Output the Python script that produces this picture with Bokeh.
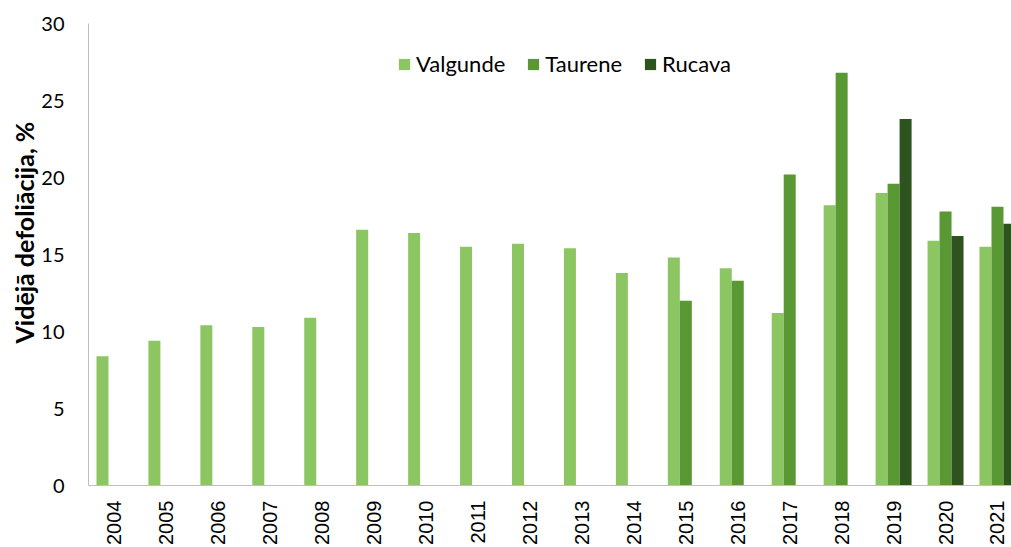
import math
from bokeh.plotting import figure
from bokeh.models import ColumnDataSource, Range1d, FixedTicker, Legend, LegendItem, Title
from bokeh.transform import dodge
from bokeh.embed import file_html
from bokeh.resources import INLINE

nan = float("nan")

years = ["2004", "2005", "2006", "2007", "2008", "2009", "2010", "2011", "2012",
         "2013", "2014", "2015", "2016", "2017", "2018", "2019", "2020", "2021"]
valgunde = [8.4, 9.4, 10.4, 10.3, 10.9, 16.6, 16.4, 15.5, 15.7,
            15.4, 13.8, 14.8, 14.1, 11.2, 18.2, 19.0, 15.9, 15.5]
taurene = [nan, nan, nan, nan, nan, nan, nan, nan, nan,
           nan, nan, 12.0, 13.3, 20.2, 26.8, 19.6, 17.8, 18.1]
rucava = [nan, nan, nan, nan, nan, nan, nan, nan, nan,
          nan, nan, nan, nan, nan, nan, 23.8, 16.2, 17.0]
series_names = ["Valgunde", "Taurene", "Rucava"]
y_ticks = [0, 5, 10, 15, 20, 25, 30]
y_title = "Vidējā defoliācija, %"

colors = ["#8CC663", "#5A9834", "#2D531E"]
BAR_W = 0.231

src = ColumnDataSource(dict(
    x=list(range(len(years))),
    valgunde=valgunde, taurene=taurene, rucava=rucava,
))

p = figure(width=1011, height=547, output_backend="svg", toolbar_location=None,
           x_range=Range1d(-0.5, 17.27), y_range=Range1d(0, 30),
           min_border_left=88, min_border_right=0, min_border_top=23,
           min_border_bottom=62, outline_line_color=None)
p.xgrid.visible = False
p.ygrid.visible = False

renderers = []
for i, (col, c) in enumerate(zip(["valgunde", "taurene", "rucava"], colors)):
    r = p.vbar(x=dodge("x", (i - 1) * BAR_W, range=p.x_range), top=col, width=BAR_W,
               bottom=0, source=src, fill_color=c, line_color=None)
    renderers.append(r)

# x axis
p.xaxis.ticker = FixedTicker(ticks=list(range(len(years))))
p.xaxis.major_label_overrides = {i: y for i, y in enumerate(years)}
p.xaxis.major_label_orientation = math.pi / 2
p.xaxis.major_tick_line_color = None
p.xaxis.minor_tick_line_color = None
p.xaxis.major_tick_out = 0
p.xaxis.major_tick_in = 0
p.xaxis.major_label_standoff = 15
p.xaxis.axis_line_color = "#BFBFBF"
p.xaxis.major_label_text_font = "Liberation Sans"
p.xaxis.major_label_text_font_size = "20px"
p.xaxis.major_label_text_color = "#000000"

# y axis
p.yaxis.ticker = FixedTicker(ticks=y_ticks)
p.yaxis.major_tick_line_color = None
p.yaxis.minor_tick_line_color = None
p.yaxis.major_tick_out = 0
p.yaxis.major_tick_in = 0
p.yaxis.major_label_standoff = 24
p.yaxis.axis_line_color = "#BFBFBF"
p.yaxis.major_label_text_font = "Lato"
p.yaxis.major_label_text_font_size = "20px"
p.yaxis.major_label_text_color = "#000000"

# axis title on the left side, starting where the reference's title starts
p.add_layout(Title(text=y_title, align="left", offset=142, standoff=0,
                   text_font="Lato", text_font_style="bold", text_font_size="25px",
                   text_color="#000000"), "left")

legend = Legend(
    items=[LegendItem(label=n, renderers=[r]) for n, r in zip(series_names, renderers)],
    orientation="horizontal", location=(309, 408), padding=0, margin=0, spacing=21,
    glyph_width=14, glyph_height=14, label_standoff=5, label_height=22,
    label_text_font="Lato", label_text_font_size="22px", label_text_color="#000000",
    border_line_color=None, background_fill_alpha=0,
)
p.add_layout(legend)

open("out.html", "w").write(file_html(p, INLINE))
